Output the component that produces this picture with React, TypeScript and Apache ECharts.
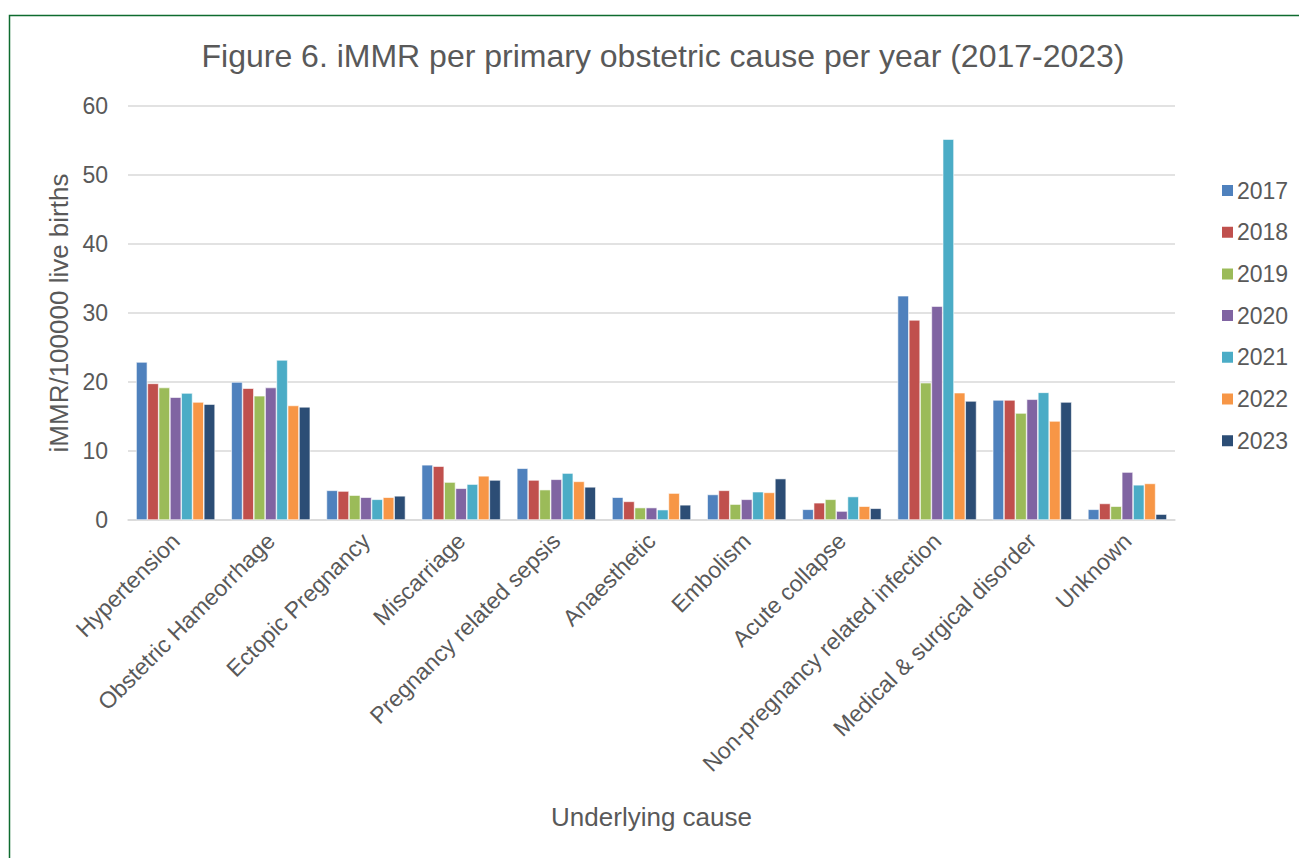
import React, { useEffect, useRef } from "react";
import * as echarts from "echarts";

const categories = [
  "Hypertension",
  "Obstetric Hameorrhage",
  "Ectopic Pregnancy",
  "Miscarriage",
  "Pregnancy related sepsis",
  "Anaesthetic",
  "Embolism",
  "Acute collapse",
  "Non-pregnancy related infection",
  "Medical & surgical disorder",
  "Unknown",
];

const years = ["2017", "2018", "2019", "2020", "2021", "2022", "2023"];

const v2017 = [22.9, 20.0, 4.3, 8.0, 7.5, 3.3, 3.7, 1.55, 32.5, 17.4, 1.55];
const v2018 = [19.8, 19.1, 4.2, 7.8, 5.8, 2.7, 4.3, 2.5, 29.0, 17.4, 2.4];
const v2019 = [19.2, 18.0, 3.6, 5.5, 4.4, 1.8, 2.3, 3.0, 19.9, 15.5, 2.0];
const v2020 = [17.8, 19.2, 3.3, 4.6, 5.9, 1.8, 3.0, 1.3, 31.0, 17.5, 6.95];
const v2021 = [18.4, 23.2, 3.0, 5.2, 6.8, 1.5, 4.1, 3.4, 55.2, 18.5, 5.1];
const v2022 = [17.1, 16.6, 3.3, 6.4, 5.6, 3.9, 4.0, 2.0, 18.45, 14.35, 5.3];
const v2023 = [16.8, 16.4, 3.5, 5.8, 4.8, 2.2, 6.0, 1.7, 17.25, 17.1, 0.85];

const seriesValues = [v2017, v2018, v2019, v2020, v2021, v2022, v2023];
const colors = ["#4F81BD", "#C0504D", "#9BBB59", "#8064A2", "#4BACC6", "#F79646", "#2C4D75"];

const yTicks = [0, 10, 20, 30, 40, 50, 60];

export default function App() {
  const ref = useRef<HTMLDivElement>(null);
  useEffect(() => {
    if (!ref.current) return;
    const chart = echarts.init(ref.current, null, { renderer: "svg" });
    const font = "'Liberation Sans', Arial, sans-serif";
    chart.setOption({
      animation: false,
      textStyle: { fontFamily: font },
      title: {
        text: "Figure 6. iMMR per primary obstetric cause per year (2017-2023)",
        left: 658,
        top: 35,
        textAlign: "center",
        textStyle: { fontFamily: font, fontSize: 32, fontWeight: "normal", color: "#595959" },
      },
      graphic: [
        {
          type: "rect",
          shape: { x: 9.5, y: 15.5, width: 1310, height: 870 },
          style: { fill: "none", stroke: "#0E6B2F", lineWidth: 1.5 },
          silent: true,
        },
      ],
      legend: {
        orient: "vertical",
        left: 1215,
        top: 174,
        itemWidth: 13,
        itemHeight: 13,
        itemGap: 18.7,
        icon: "rect",
        data: years,
        textStyle: { fontFamily: font, fontSize: 23, color: "#595959", padding: [0, 0, 0, -2] },
      },
      grid: { left: 128, right: 124, top: 106, bottom: 338, containLabel: false },
      xAxis: {
        type: "category",
        data: categories,
        name: "Underlying cause",
        nameLocation: "middle",
        nameGap: 284,
        nameTextStyle: { fontFamily: font, fontSize: 26, color: "#595959" },
        axisLine: { lineStyle: { color: "#D9D9D9", width: 1.5 } },
        axisTick: { show: false },
        axisLabel: {
          rotate: 45,
          interval: 0,
          margin: 17,
          fontFamily: font,
          fontSize: 23,
          color: "#595959",
        },
      },
      yAxis: {
        type: "value",
        min: 0,
        max: 60,
        interval: 10,
        name: "iMMR/100000 live births",
        nameLocation: "middle",
        nameGap: 55,
        nameRotate: 90,
        nameTextStyle: { fontFamily: font, fontSize: 26, color: "#595959" },
        axisLine: { show: false },
        axisTick: { show: false },
        axisLabel: {
          margin: 20,
          fontFamily: font,
          fontSize: 23,
          color: "#595959",
          formatter: (v: number) => (yTicks.includes(v) ? String(v) : ""),
        },
        splitLine: { lineStyle: { color: "#D9D9D9", width: 1.5 } },
      },
      series: years.map((y, i) => ({
        name: y,
        type: "bar",
        data: seriesValues[i],
        barGap: "0%",
        barCategoryGap: "17%",
        itemStyle: { color: colors[i], borderColor: "#ffffff", borderWidth: 0.6 },
      })),
    });
    return () => chart.dispose();
  }, []);
  return (
    <div
      ref={ref}
      style={{ position: "absolute", left: 0, top: 0, width: 1299, height: 858, background: "#fff" }}
    />
  );
}
